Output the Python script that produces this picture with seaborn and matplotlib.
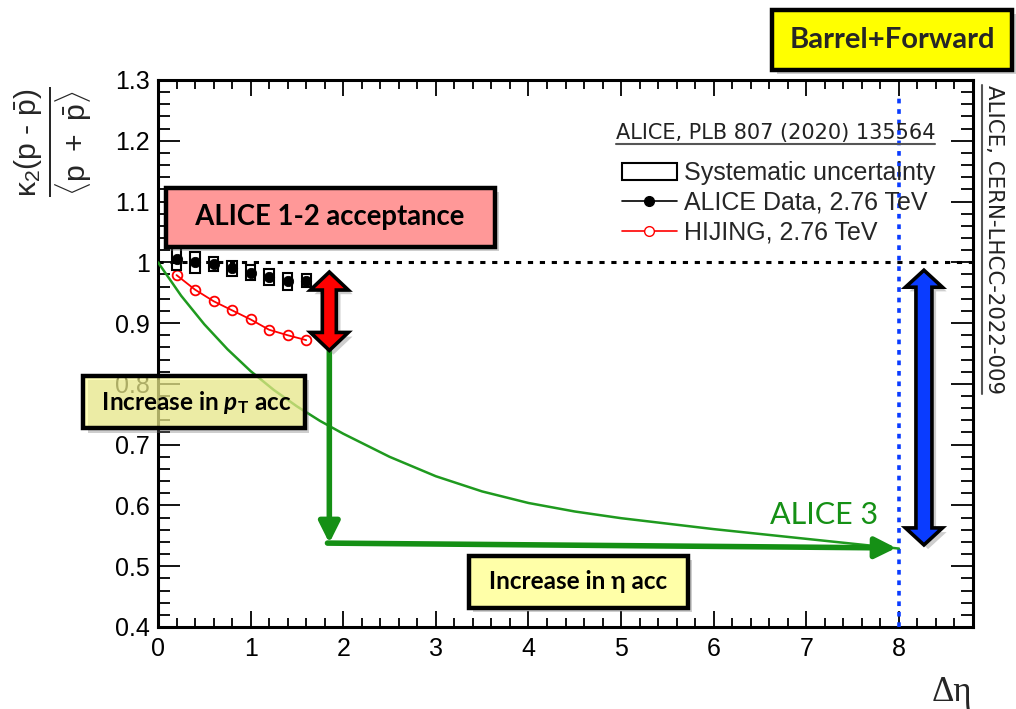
import matplotlib
matplotlib.use("Agg")
import matplotlib.pyplot as plt
import matplotlib.patheffects as pe
from matplotlib.lines import Line2D
from matplotlib.patches import Patch, Polygon
from matplotlib.ticker import MultipleLocator
import seaborn as sns

# ALICE measurement (Pb-Pb 2.76 TeV) with systematic uncertainties
alice_deta = [0.2, 0.4, 0.6, 0.8, 1.0, 1.2, 1.4, 1.6]
alice_val = [1.006, 1.000, 0.997, 0.990, 0.983, 0.976, 0.969, 0.970]
alice_sys = [0.018, 0.017, 0.011, 0.012, 0.012, 0.013, 0.014, 0.011]

# HIJING model
hijing_deta = [0.2, 0.4, 0.6, 0.8, 1.0, 1.2, 1.4, 1.6]
hijing_val = [0.979, 0.955, 0.936, 0.921, 0.906, 0.889, 0.880, 0.872]

# ALICE 3 projection
alice3_deta = [0.0, 0.25, 0.5, 0.75, 1.0, 1.25, 1.5, 1.75, 2.0, 2.5, 3.0, 3.5,
               4.0, 4.5, 5.0, 5.5, 6.0, 6.5, 7.0, 7.5, 8.0]
alice3_val = [1.000, 0.945, 0.898, 0.857, 0.821, 0.790, 0.763, 0.739, 0.718,
              0.680, 0.648, 0.623, 0.604, 0.590, 0.579, 0.570, 0.561, 0.553,
              0.545, 0.537, 0.529]

x_ticks = [0, 1, 2, 3, 4, 5, 6, 7, 8]
y_ticks = [0.4, 0.5, 0.6, 0.7, 0.8, 0.9, 1.0, 1.1, 1.2, 1.3]
y_tick_labels = ["0.4", "0.5", "0.6", "0.7", "0.8", "0.9", "1", "1.1", "1.2", "1.3"]

# acceptance reach markers
acc12_deta, acc12_low, acc12_high = 1.85, 0.855, 0.984
acc3_deta, acc3_low, acc3_high = 8.27, 0.535, 0.987
eta_reach = 8.0
green_end = (7.97, 0.530)
green_corner = (1.85, 0.538)

sns.set_theme(style="ticks")
plt.rcParams["font.family"] = ["Liberation Sans", "DejaVu Sans"]
plt.rcParams["mathtext.fontset"] = "custom"
plt.rcParams["mathtext.rm"] = "Liberation Sans"
plt.rcParams["mathtext.it"] = "Liberation Sans:italic"
plt.rcParams["mathtext.bf"] = "Lato:bold"
plt.rcParams["mathtext.bfit"] = "Lato:bold:italic"

GREEN = "#159015"
fig = plt.figure(figsize=(10.16, 7.09), dpi=100)
ax = fig.add_axes([0.1555, 0.1157, 0.8022, 0.7715])
ax.set_xlim(0, 8.8)
ax.set_ylim(0.4, 1.3)

# reference lines
ax.axhline(1.0, color="black", lw=2.2, ls=(0, (1.7, 2.2)), zorder=2)
ax.plot([eta_reach, eta_reach], [0.4, 1.275], color="#0a3cff", lw=2.6,
        ls=(0, (1.3, 1.6)), zorder=3, solid_capstyle="butt")

# ALICE 3 curve
sns.lineplot(x=alice3_deta, y=alice3_val, color="#1f9a1f", lw=1.8, ax=ax, zorder=3)

# HIJING
sns.lineplot(x=hijing_deta, y=hijing_val, color="red", lw=1.3, marker="o",
             markersize=7, markerfacecolor="none", markeredgecolor="red",
             markeredgewidth=1.3, ax=ax, zorder=4)

# ALICE systematic boxes and points
ax.bar(alice_deta, [2 * s for s in alice_sys],
       bottom=[v - s for v, s in zip(alice_val, alice_sys)], width=0.1,
       fill=False, edgecolor="black", linewidth=1.5, zorder=4)
sns.scatterplot(x=alice_deta, y=alice_val, color="black", s=55,
                edgecolor="black", ax=ax, zorder=5)

shadow = [pe.withSimplePatchShadow(offset=(3, -3), shadow_rgbFace="0.45", alpha=0.35)]


def double_arrow(xc, y0, y1, shaft_px, head_px, headlen_px, color):
    p0 = ax.transData.transform((0, 0))
    p1 = ax.transData.transform((1, 1))
    dx = 1.0 / (p1[0] - p0[0])
    dy = 1.0 / (p1[1] - p0[1])
    sw, hw, hl = shaft_px / 2 * dx, head_px / 2 * dx, headlen_px * dy
    pts = [(xc, y1), (xc + hw, y1 - hl), (xc + sw, y1 - hl), (xc + sw, y0 + hl),
           (xc + hw, y0 + hl), (xc, y0), (xc - hw, y0 + hl), (xc - sw, y0 + hl),
           (xc - sw, y1 - hl), (xc - hw, y1 - hl)]
    poly = Polygon(pts, closed=True, facecolor=color, edgecolor="black", lw=2.6,
                   joinstyle="miter", zorder=8, clip_on=False)
    poly.set_path_effects(shadow)
    ax.add_patch(poly)


# green acceptance arrows
arrow_kw = dict(arrowstyle="-|>,head_length=0.9,head_width=0.45", color=GREEN,
                lw=4, mutation_scale=14, shrinkA=0, shrinkB=0)
ax.annotate("", xy=green_corner, xytext=(acc12_deta, acc12_low),
            arrowprops=arrow_kw, zorder=6)
ax.annotate("", xy=green_end, xytext=(green_corner[0] - 0.02, green_corner[1]),
            arrowprops=arrow_kw, zorder=6)

double_arrow(acc12_deta, acc12_low, acc12_high, 14, 38, 18, "#ff0000")
double_arrow(acc3_deta, acc3_low, acc3_high, 16, 37, 17, "#0a3cff")

# axes styling
for sp in ax.spines.values():
    sp.set_linewidth(2.2)
    sp.set_color("black")
    sp.set_zorder(2.5)
ax.set_xticks(x_ticks)
ax.set_yticks(y_ticks)
ax.set_yticklabels(y_tick_labels)
ax.xaxis.set_minor_locator(MultipleLocator(0.2))
ax.yaxis.set_minor_locator(MultipleLocator(0.02))
ax.tick_params(which="both", direction="in", top=True, right=True,
               width=1.3, color="black", labelsize=18, labelcolor="black")
ax.tick_params(axis="y", which="major", length=16, pad=6)
ax.tick_params(axis="y", which="minor", length=8.5)
ax.tick_params(axis="x", which="major", length=11.5, pad=7)
ax.tick_params(axis="x", which="minor", length=6.5)
ax.grid(False)
ax.set_xlabel("")
ax.set_ylabel("")

# legend
handles = [Patch(facecolor="white", edgecolor="black", lw=1.5),
           Line2D([], [], color="black", lw=1.2, marker="o", markersize=7),
           Line2D([], [], color="red", lw=1.2, marker="o", markersize=7,
                  markerfacecolor="white")]
labels = ["Systematic uncertainty", "ALICE Data, 2.76 TeV", "HIJING, 2.76 TeV"]
ax.legend(handles, labels, loc="upper left", bbox_to_anchor=(0.569, 0.851),
          frameon=False, fontsize=18, handlelength=2.2, handletextpad=0.3,
          labelspacing=0.22, borderpad=0, borderaxespad=0)
ref_txt = ax.text(4.94, 1.212, "ALICE, PLB 807 (2020) 135564", fontsize=15,
                  family="DejaVu Sans", color="#222222", va="center", ha="left")


# annotation boxes
def boxed(x, y, s, fc, size, pad):
    t = ax.text(x, y, s, fontsize=size, fontweight="bold",
                family=["Lato", "DejaVu Sans"], ha="center", va="center",
                zorder=9, color="black", clip_on=False,
                bbox=dict(boxstyle=f"square,pad={pad}", facecolor=fc,
                          edgecolor="black", linewidth=3.2))
    t.get_bbox_patch().set_path_effects(shadow)
    return t


boxed(1.86, 1.074, "  ALICE 1-2 acceptance  ", "#ff9898", 19.8, 0.6)
boxed(0.39, 0.770, r" Increase in $\mathbfit{p}_{\mathbf{T}}$ acc ",
      (1, 1, 0.55, 0.62), 17.5, 0.53)
boxed(4.54, 0.4745, " Increase in η acc ", "#ffffa8", 17.5, 0.6)

ax.text(7.19, 0.584, "ALICE 3", color=GREEN, fontsize=22, family="Lato",
        ha="center", va="center", zorder=9)

bf = fig.text(0.878, 0.9436, "Barrel+Forward", fontsize=21, fontweight="bold",
              family="Lato", ha="center", va="center",
              bbox=dict(boxstyle="square,pad=0.58", facecolor="#ffff00",
                        edgecolor="black", linewidth=3.2))
bf.get_bbox_patch().set_path_effects(shadow)

# axis titles
hyphen = "\u2010"
ylab = (r"$\frac{\mathrm{\kappa_{2}(p\ " + hyphen + r"\ \bar{p})}}"
        r"{\mathrm{\langle p\ +\ \bar{p}\rangle}}$")
fig.text(0.052, 0.80, ylab, rotation=90, fontsize=31, ha="center", va="center")
fig.text(0.937, 0.0226, "Δη", fontsize=25, family="Liberation Serif",
         ha="center", va="center")
side = fig.text(0.978, 0.6615, "ALICE, CERN-LHCC-2022-009", rotation=-90,
                fontsize=15.3, family="DejaVu Sans", color="#222222",
                ha="center", va="center")

# underline the two reference texts
fig.canvas.draw()
inv = fig.transFigure.inverted()
bb = ref_txt.get_window_extent()
(a0, b0), (a1, _) = inv.transform([(bb.x0, bb.y0 - 1), (bb.x1, bb.y0)])
fig.add_artist(Line2D([a0, a1], [b0, b0], transform=fig.transFigure,
                      color="#555555", lw=1.5))
bb = side.get_window_extent()
(a0, b0), (_, b1) = inv.transform([(bb.x0 - 2, bb.y0), (bb.x0, bb.y1)])
fig.add_artist(Line2D([a0, a0], [b0, b1], transform=fig.transFigure,
                      color="#555555", lw=1.5))

fig.savefig("out.png", dpi=100)
